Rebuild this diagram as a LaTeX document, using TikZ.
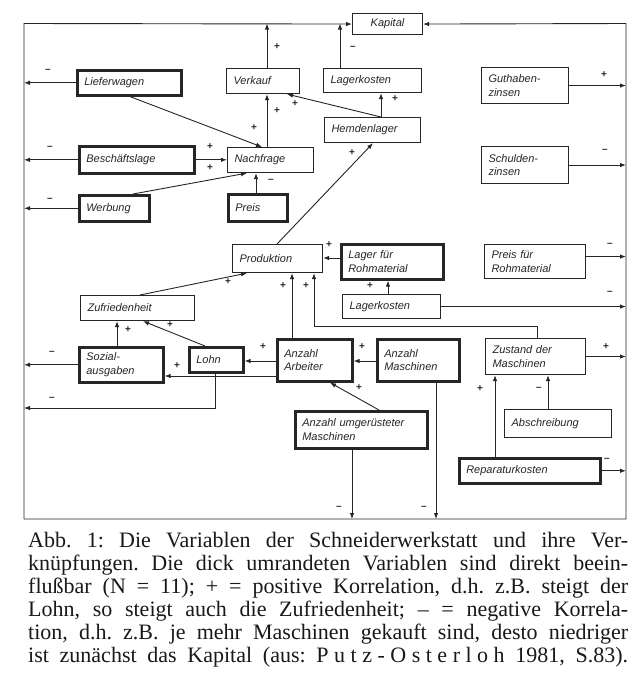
\documentclass[tikz,border=0pt]{standalone}
\usepackage{fontspec}
\setmainfont{Liberation Serif}
\newfontfamily\boxfont{Liberation Sans}
\usetikzlibrary{arrows.meta}
\frenchspacing
\begin{document}
\begin{tikzpicture}[x=1pt,y=-1pt,
  vbox/.style={draw=black!85, rectangle, anchor=north west, inner xsep=7pt, inner ysep=1pt,
    align=left, font=\boxfont\itshape\fontsize{11}{13.5}\selectfont, text=black!85, line width=1.1pt},
  keybox/.style={vbox, line width=2.6pt},
  link/.style={draw=black!85, line width=0.9pt, -{Latex[length=6pt,width=4.5pt]}},
  sgn/.style={font=\boxfont\bfseries\fontsize{10}{10}\selectfont, text=black!85, inner sep=0pt},
  capline/.style={anchor=base west, inner sep=0pt, font=\fontsize{22}{23}\selectfont, text=black!90},
]
\useasboundingbox (0,0) rectangle (644,699);
\fill[white] (0,0) rectangle (644,699);

% frame corners
\coordinate (cTL) at (24,23.5);
\coordinate (cBL) at (24,519);
\coordinate (cBR) at (626,519);
\coordinate (cTR) at (626,23.5);

% variables
\node[vbox, text width=56pt, minimum height=21pt, align=center] (kapital) at (352,13) {Kapital};
\node[keybox, text width=90pt, minimum height=25pt] (liefer) at (76,69) {Lieferwagen};
\node[vbox, text width=59pt, minimum height=25pt] (verkauf) at (226,68) {Verkauf};
\node[vbox, text width=84pt, minimum height=24pt] (lagerk) at (323,68) {Lagerkosten};
\node[vbox, text width=73pt, minimum height=36pt] (guthaben) at (481,67) {Guthaben-\\zinsen};
\node[keybox, text width=101pt, minimum height=27pt] (besch) at (78,145) {Beschäftslage};
\node[vbox, text width=72pt, minimum height=25pt] (nachfrage) at (227,147) {Nachfrage};
\node[vbox, text width=82pt, minimum height=25pt] (hemden) at (324,117) {Hemdenlager};
\node[vbox, text width=73pt, minimum height=37pt] (schulden) at (481,146) {Schulden-\\zinsen};
\node[keybox, text width=56pt, minimum height=26pt] (werbung) at (78,194) {Werbung};
\node[keybox, text width=45pt, minimum height=27pt] (preis) at (227,193) {Preis};
\node[vbox, text width=76pt, minimum height=28pt] (produktion) at (232,244) {Produktion};
\node[keybox, text width=88pt, minimum height=35pt] (lagerroh) at (340,243) {Lager für\\Rohmaterial};
\node[vbox, text width=87pt, minimum height=34pt] (preisroh) at (484,244) {Preis für\\Rohmaterial};
\node[vbox, text width=84pt, minimum height=24pt] (lagerkroh) at (342,294) {Lagerkosten};
\node[vbox, text width=100pt, minimum height=25pt] (zufrieden) at (80,295) {Zufriedenheit};
\node[keybox, text width=70pt, minimum height=35pt] (sozial) at (78,346) {Sozial-\\ausgaben};
\node[keybox, text width=40pt, minimum height=25pt] (lohn) at (188,346) {Lohn};
\node[keybox, text width=61pt, minimum height=42pt] (arbeiter) at (276,338) {Anzahl\\Arbeiter};
\node[keybox, text width=68pt, minimum height=42pt] (maschinen) at (376,338) {Anzahl\\Maschinen};
\node[vbox, text width=86pt, minimum height=36pt] (zustand) at (485,338) {Zustand der\\Maschinen};
\node[keybox, text width=118pt, minimum height=37pt] (umger) at (294,410) {Anzahl umgerüsteter\\Maschinen};
\node[vbox, text width=93pt, minimum height=28pt] (abschr) at (504,409) {Abschreibung};
\node[keybox, text width=127pt, minimum height=25pt] (repar) at (458,457) {Reparaturkosten};

% frame collecting into the capital
\draw[link] (cBL) -- (cTL) -- (kapital.west);
\draw[link] (cBL) -- (cBR) -- (cTR) -- (kapital.east);

% connectors into the frame
\draw[link] (verkauf.north -| 267,0) -- (cTL -| 267,0);
\draw[link] (lagerk.north -| 340,0) -- (cTL -| 340,0);
\draw[link] (liefer.west) -- (liefer.west -| cTL);
\draw[link] (besch.west) -- (besch.west -| cTL);
\draw[link] (werbung.west) -- (werbung.west -| cTL);
\draw[link] (sozial.west) -- (sozial.west -| cTL);
\draw[link] (lohn.south -| 215,0) |- (cTL |- 0,408);
\draw[link] (guthaben.east) -- (guthaben.east -| cTR);
\draw[link] (schulden.east) -- (schulden.east -| cTR);
\draw[link] ([yshift=5pt]preisroh.east) -- ([yshift=5pt]preisroh.east -| cTR);
\draw[link] (lagerkroh.east) -- (lagerkroh.east -| cTR);
\draw[link] (zustand.east) -- (zustand.east -| cTR);
\draw[link] (repar.east) -- (repar.east -| cTR);
\draw[link] (umger.south -| 352,0) -- (cBL -| 352,0);
\draw[link] (maschinen.south -| 436,0) -- (cBL -| 436,0);

% connectors between variables
\draw[link] (nachfrage.north -| 267,0) -- (verkauf.south -| 267,0);
\draw[link] (liefer.south -| 130,0) -- (nachfrage.north -| 262,0);
\draw[link] (besch.east) -- (nachfrage.west |- besch.east);
\draw[link] (werbung.north -| 133,0) -- (nachfrage.south -| 247,0);
\draw[link] (preis.north -| 256,0) -- (nachfrage.south -| 256,0);
\draw[link] (hemden.north -| 381,0) -- (verkauf.south -| 287,0);
\draw[link] (hemden.north -| 381,0) -- (lagerk.south -| 381,0);
\draw[link] (produktion.north -| 277,0) -- (hemden.south -| 373,0);
\draw[link] (lagerroh.west |- 0,258) -- (produktion.east |- 0,258);
\draw[link] (lagerkroh.north -| 388,0) -- (lagerroh.south -| 388,0);
\draw[link] (zufrieden.north -| 140,0) -- (produktion.south -| 247,0);
\draw[link] (arbeiter.north -| 292,0) -- (produktion.south -| 292,0);
\draw[link] (zustand.north -| 537,0) |- (314,326) -- (produktion.south -| 314,0);
\draw[link] (maschinen.west |- 0,361) -- (arbeiter.east |- 0,361);
\draw[link] (arbeiter.west |- 0,361) -- (lohn.east |- 0,361);
\draw[link] (arbeiter.west |- 0,376) -- (sozial.east |- 0,376);
\draw[link] (sozial.north -| 117,0) -- (zufrieden.south -| 117,0);
\draw[link] (lohn.north -| 205,0) -- (zufrieden.south -| 143,0);
\draw[link] (umger.north -| 379,0) -- (arbeiter.south -| 330,0);
\draw[link] (abschr.north -| 548,0) -- (zustand.south -| 548,0);
\draw[link] (repar.north -| 495,0) -- (zustand.south -| 495,0);

% signs of the correlations
\node[sgn] at (277,47) {+};
\node[sgn] at (353,48) {–};
\node[sgn] at (48,71) {–};
\node[sgn] at (50,148) {–};
\node[sgn] at (50,200) {–};
\node[sgn] at (277,111) {+};
\node[sgn] at (254,128) {+};
\node[sgn] at (295,104) {+};
\node[sgn] at (210,147) {+};
\node[sgn] at (210,168) {+};
\node[sgn] at (271,181) {–};
\node[sgn] at (395,99) {+};
\node[sgn] at (352,153) {+};
\node[sgn] at (604,75) {+};
\node[sgn] at (605,151) {–};
\node[sgn] at (610,245) {–};
\node[sgn] at (329,245) {+};
\node[sgn] at (370,286) {+};
\node[sgn] at (610,293) {–};
\node[sgn] at (228,282) {+};
\node[sgn] at (283,286) {+};
\node[sgn] at (306,286) {+};
\node[sgn] at (362,347) {+};
\node[sgn] at (263,347) {+};
\node[sgn] at (177,366) {+};
\node[sgn] at (128,330) {+};
\node[sgn] at (170,325) {+};
\node[sgn] at (52,353) {–};
\node[sgn] at (52,399) {–};
\node[sgn] at (359,388) {+};
\node[sgn] at (339,508) {–};
\node[sgn] at (424,508) {–};
\node[sgn] at (606,347) {+};
\node[sgn] at (539,389) {–};
\node[sgn] at (480,389) {+};
\node[sgn] at (607,460) {–};

% caption
\node[capline] (cap1) at (28,547) {\makebox[600pt][s]{Abb. 1: Die Variablen der Schneiderwerkstatt und ihre Ver-}};
\node[capline] (cap2) at (28,570) {\makebox[600pt][s]{knüpfungen. Die dick umrandeten Variablen sind direkt beein-}};
\node[capline] (cap3) at (28,593) {\makebox[600pt][s]{flußbar (N = 11); + = positive Korrelation, d.h. z.B. steigt der}};
\node[capline] (cap4) at (28,616) {\makebox[600pt][s]{Lohn, so steigt auch die Zufriedenheit; – = negative Korrela-}};
\node[capline] (cap5) at (28,639) {\makebox[600pt][s]{tion, d.h. z.B. je mehr Maschinen gekauft sind, desto niedriger}};
\node[capline] (cap6) at (28,662) {\makebox[600pt][s]{ist zunächst das Kapital (aus: {\addfontfeature{LetterSpace=25}Putz-Osterloh} 1981, S.83).}};
\end{tikzpicture}
\end{document}
